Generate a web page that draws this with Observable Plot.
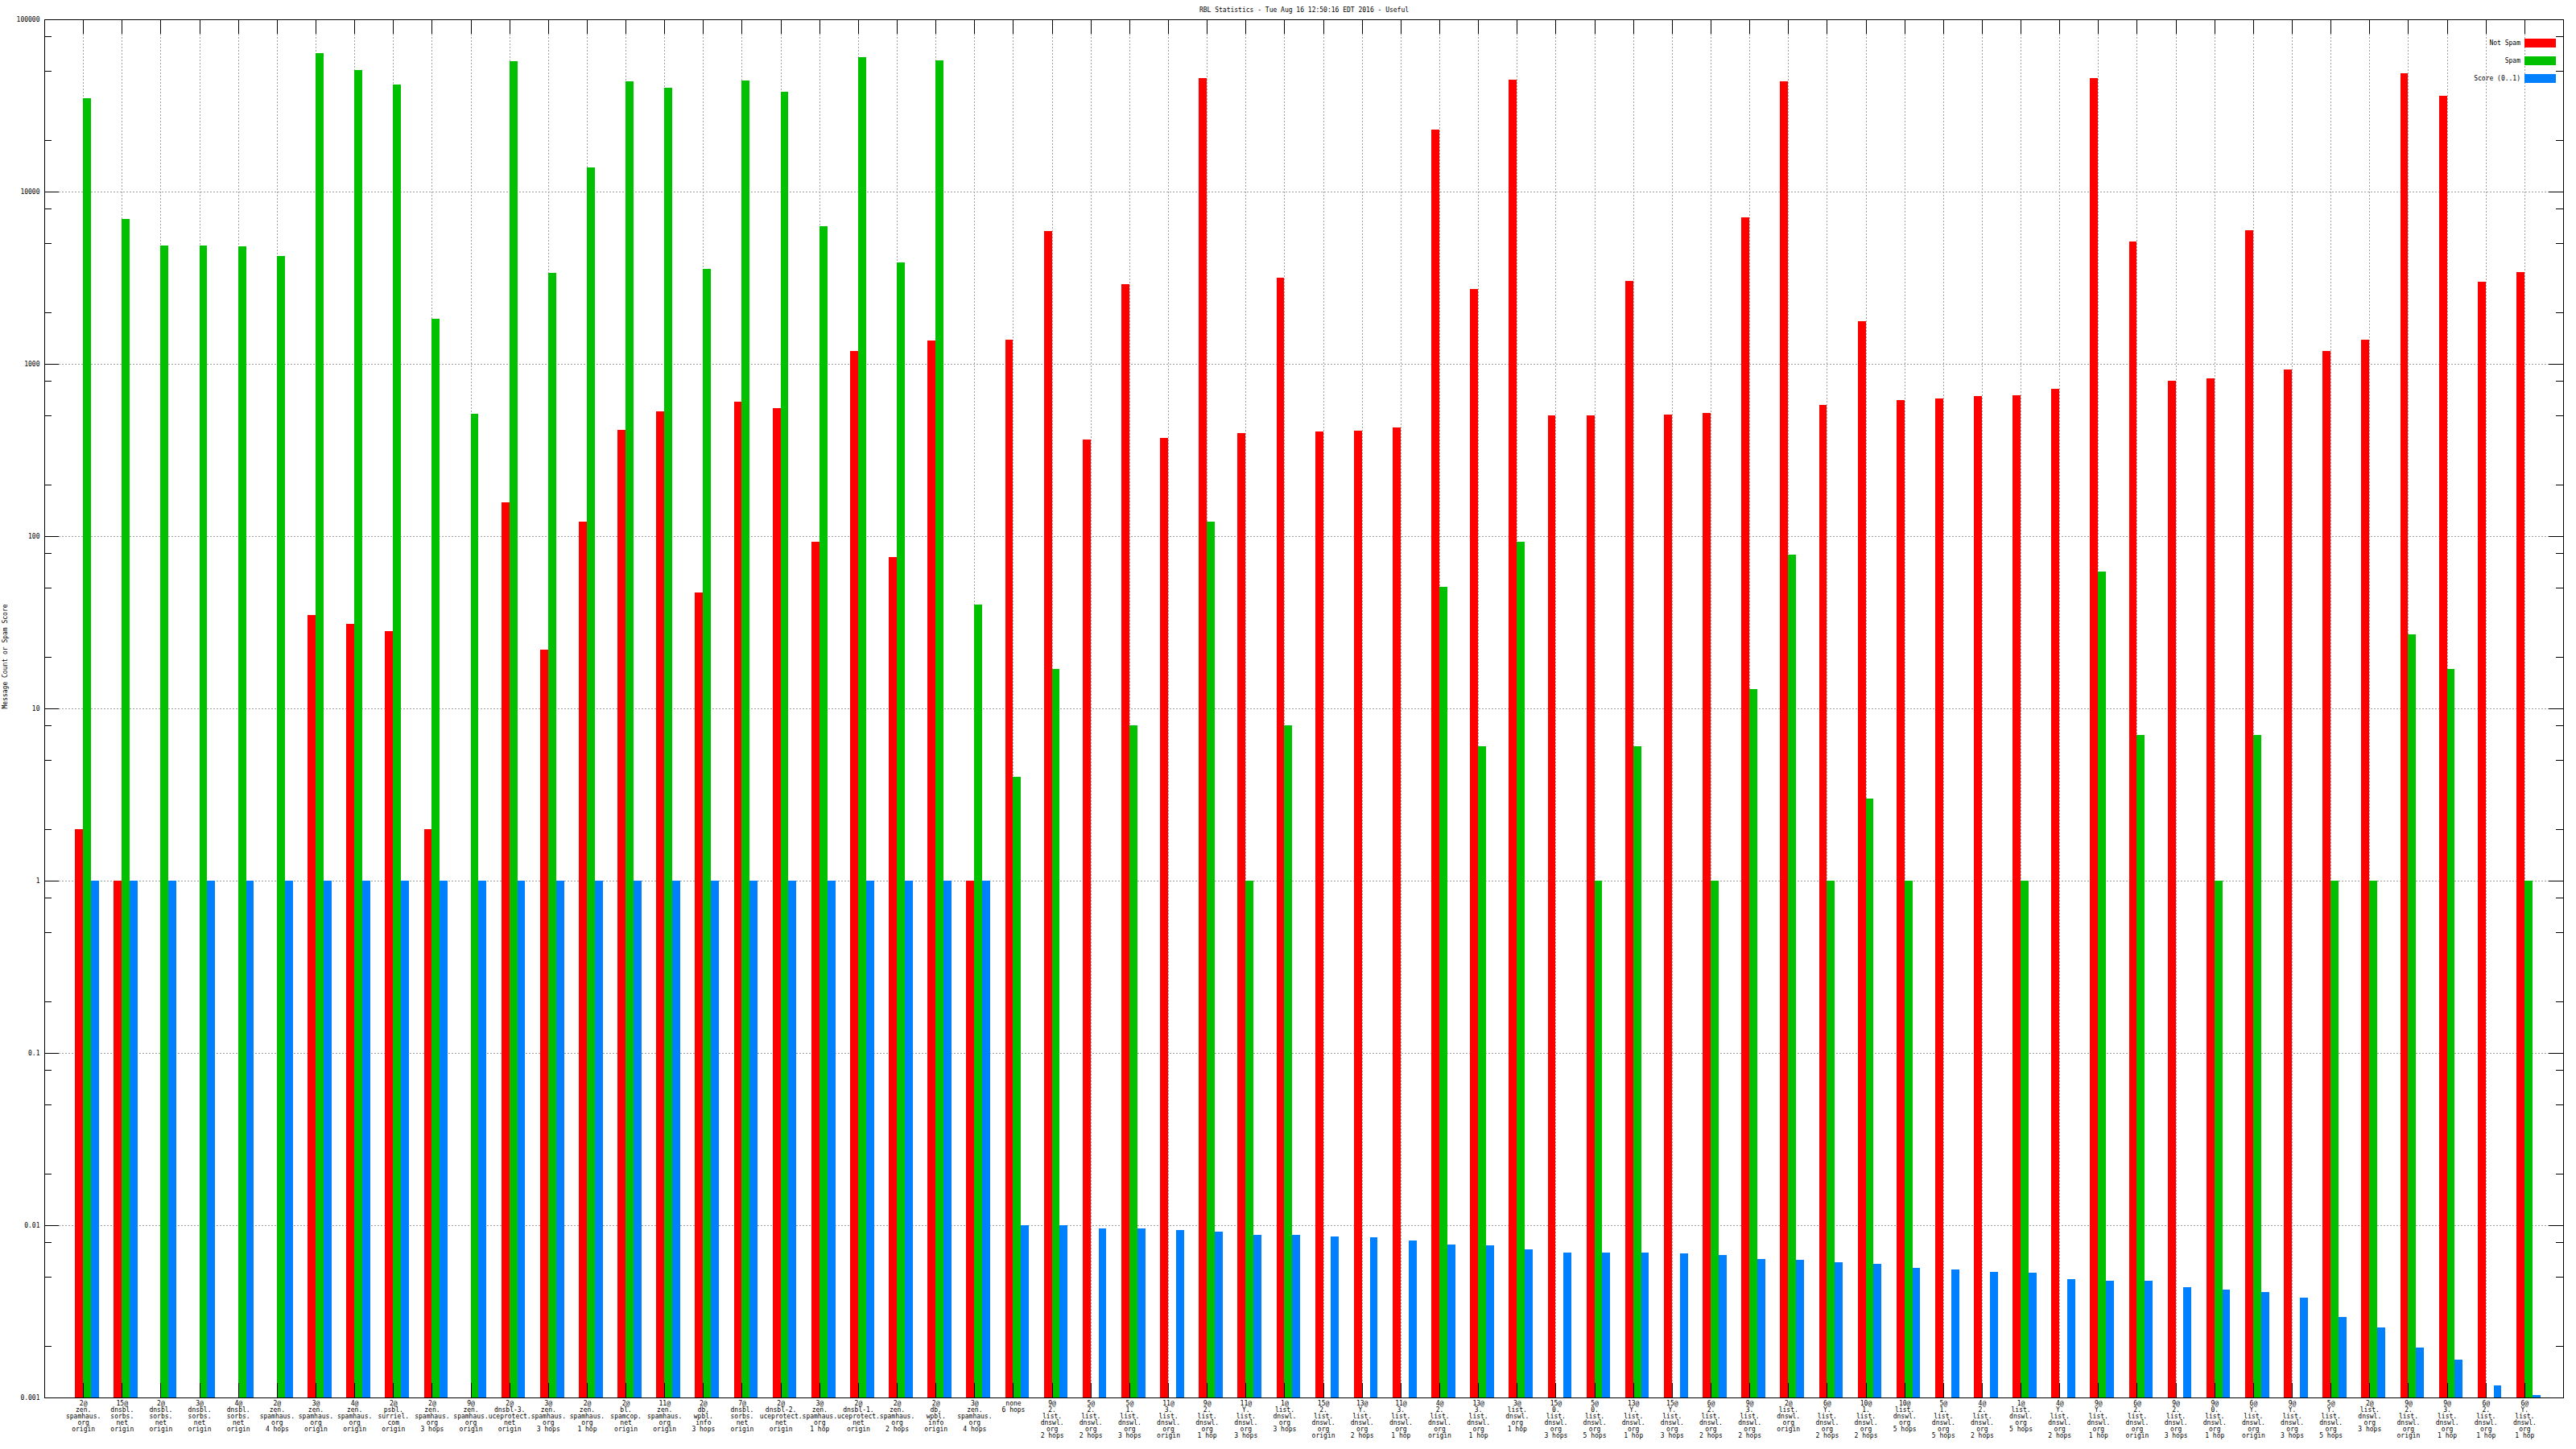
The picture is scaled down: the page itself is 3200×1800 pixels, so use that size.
<!DOCTYPE html>
<html>
<head>
<meta charset="utf-8">
<script src="https://cdn.jsdelivr.net/npm/d3@7"></script>
<script src="https://cdn.jsdelivr.net/npm/@observablehq/plot@0.6"></script>
<style>
  html, body { margin: 0; padding: 0; background: #ffffff; }
  #chart svg { display: block; shape-rendering: crispEdges; }
  #chart svg text { shape-rendering: auto; }
</style>
</head>
<body>
<div id="chart"></div>
<script>
const chartTitle = "RBL Statistics - Tue Aug 16 12:50:16 EDT 2016 - Useful";
const yLabel = "Message Count or Spam Score";

const categories = [
  "2@\nzen.\nspamhaus.\norg\norigin",
  "15@\ndnsbl.\nsorbs.\nnet\norigin",
  "2@\ndnsbl.\nsorbs.\nnet\norigin",
  "3@\ndnsbl.\nsorbs.\nnet\norigin",
  "4@\ndnsbl.\nsorbs.\nnet\norigin",
  "2@\nzen.\nspamhaus.\norg\n4 hops",
  "3@\nzen.\nspamhaus.\norg\norigin",
  "4@\nzen.\nspamhaus.\norg\norigin",
  "2@\npsbl.\nsurriel.\ncom\norigin",
  "2@\nzen.\nspamhaus.\norg\n3 hops",
  "9@\nzen.\nspamhaus.\norg\norigin",
  "2@\ndnsbl-3.\nuceprotect.\nnet\norigin",
  "3@\nzen.\nspamhaus.\norg\n3 hops",
  "2@\nzen.\nspamhaus.\norg\n1 hop",
  "2@\nbl.\nspamcop.\nnet\norigin",
  "11@\nzen.\nspamhaus.\norg\norigin",
  "2@\ndb.\nwpbl.\ninfo\n3 hops",
  "7@\ndnsbl.\nsorbs.\nnet\norigin",
  "2@\ndnsbl-2.\nuceprotect.\nnet\norigin",
  "3@\nzen.\nspamhaus.\norg\n1 hop",
  "2@\ndnsbl-1.\nuceprotect.\nnet\norigin",
  "2@\nzen.\nspamhaus.\norg\n2 hops",
  "2@\ndb.\nwpbl.\ninfo\norigin",
  "3@\nzen.\nspamhaus.\norg\n4 hops",
  "none\n6 hops",
  "9@\n2.\nlist.\ndnswl.\norg\n2 hops",
  "5@\n2.\nlist.\ndnswl.\norg\n2 hops",
  "5@\n1.\nlist.\ndnswl.\norg\n3 hops",
  "11@\n3.\nlist.\ndnswl.\norg\norigin",
  "9@\n2.\nlist.\ndnswl.\norg\n1 hop",
  "11@\nY.\nlist.\ndnswl.\norg\n3 hops",
  "1@\nlist.\ndnswl.\norg\n3 hops",
  "15@\n2.\nlist.\ndnswl.\norg\norigin",
  "13@\nY.\nlist.\ndnswl.\norg\n2 hops",
  "11@\n3.\nlist.\ndnswl.\norg\n1 hop",
  "4@\n2.\nlist.\ndnswl.\norg\norigin",
  "13@\n3.\nlist.\ndnswl.\norg\n1 hop",
  "3@\nlist.\ndnswl.\norg\n1 hop",
  "15@\n0.\nlist.\ndnswl.\norg\n3 hops",
  "5@\n0.\nlist.\ndnswl.\norg\n5 hops",
  "13@\nY.\nlist.\ndnswl.\norg\n1 hop",
  "15@\nY.\nlist.\ndnswl.\norg\n3 hops",
  "6@\n2.\nlist.\ndnswl.\norg\n2 hops",
  "9@\n3.\nlist.\ndnswl.\norg\n2 hops",
  "2@\nlist.\ndnswl.\norg\norigin",
  "6@\nY.\nlist.\ndnswl.\norg\n2 hops",
  "10@\n1.\nlist.\ndnswl.\norg\n2 hops",
  "10@\nlist.\ndnswl.\norg\n5 hops",
  "5@\n1.\nlist.\ndnswl.\norg\n5 hops",
  "4@\n2.\nlist.\ndnswl.\norg\n2 hops",
  "1@\nlist.\ndnswl.\norg\n5 hops",
  "4@\nY.\nlist.\ndnswl.\norg\n2 hops",
  "9@\nY.\nlist.\ndnswl.\norg\n1 hop",
  "6@\n2.\nlist.\ndnswl.\norg\norigin",
  "9@\n2.\nlist.\ndnswl.\norg\n3 hops",
  "9@\n0.\nlist.\ndnswl.\norg\n1 hop",
  "6@\nY.\nlist.\ndnswl.\norg\norigin",
  "9@\nY.\nlist.\ndnswl.\norg\n3 hops",
  "5@\nY.\nlist.\ndnswl.\norg\n5 hops",
  "2@\nlist.\ndnswl.\norg\n3 hops",
  "9@\n2.\nlist.\ndnswl.\norg\norigin",
  "9@\n3.\nlist.\ndnswl.\norg\n1 hop",
  "6@\n2.\nlist.\ndnswl.\norg\n1 hop",
  "6@\nY.\nlist.\ndnswl.\norg\n1 hop"
];

const notSpam = [
  2, 1, null, null, null, null, 35, 31, 28, 2,
  null, 157, 22, 122, 413, 531, 47, 603, 555, 93,
  1190, 76, 1360, 1, 1380, 5890, 364, 2900, 372, 45600,
  395, 3150, 405, 411, 426, 22950, 2710, 44600, 504, 504,
  3030, 507, 518, 7060, 43600, 577, 1760, 617, 631, 650,
  655, 717, 45600, 5140, 798, 822, 5980, 927, 1190, 1380,
  48400, 36000, 2990, 3400
];

const spam = [
  34800, 6900, 4840, 4840, 4810, 4230, 63600, 50700, 42000, 1830,
  514, 57100, 3370, 13800, 43600, 40100, 3560, 44200, 38000, 6310,
  60300, 3890, 57600, 40, 4, 17, null, 8, null, 122,
  1, 8, null, null, null, 51, 6, 93, null, 1,
  6, null, 1, 13, 78, 1, 3, 1, null, null,
  1, null, 62, 7, null, 1, 7, null, 1, 1,
  27, 17, null, 1
];

const score = [
  1, 1, 1, 1, 1, 1, 1, 1, 1, 1,
  1, 1, 1, 1, 1, 1, 1, 1, 1, 1,
  1, 1, 1, 1, 0.0100, 0.0100, 0.00958, 0.00958, 0.00938, 0.00918,
  0.00879, 0.00879, 0.00860, 0.00851, 0.00815, 0.00772, 0.00764, 0.00724, 0.00693, 0.00693,
  0.00693, 0.00686, 0.00671, 0.00636, 0.00629, 0.00610, 0.00597, 0.00565, 0.00553, 0.00536,
  0.00530, 0.00486, 0.00476, 0.00476, 0.00437, 0.00423, 0.00409, 0.00380, 0.00293, 0.00255,
  0.00195, 0.00166, 0.00117, 0.00103
];

const seriesNames = ["Not Spam", "Spam", "Score (0..1)"];
const seriesColors = ["#ff0000", "#00c000", "#0080ff"];
const yTicks = [0.001, 0.01, 0.1, 1, 10, 100, 1000, 10000, 100000];
const minorMultipliers = [2, 5, 8];

// ---- build table ----
const seriesValues = [notSpam, spam, score];
const barOffset = [-0.205, 0, 0.205];
const barWidth = 0.205;
const rows = [];
seriesValues.forEach((vals, s) => {
  vals.forEach((v, i) => {
    if (v != null && v > 0) rows.push({i, series: seriesNames[s], s, value: v});
  });
});
const indices = categories.map((_, i) => i);
const yMinor = yTicks.slice(0, -1).flatMap(d => minorMultipliers.map(m => d * m));
const yInner = yTicks.slice(1, -1);

const W = 3200, H = 1800;
const mL = 55, mR = 16, mT = 24, mB = 64;
const fw = W - mL - mR, fh = H - mT - mB;
const gridStyle = {stroke: "#a0a0a0", strokeDasharray: "2,2", strokeWidth: 1};

const chart = Plot.plot({
  width: W,
  height: H,
  marginLeft: mL,
  marginRight: mR,
  marginTop: mT,
  marginBottom: mB,
  style: {fontFamily: "'DejaVu Sans Mono', monospace", fontSize: "8px", background: "#ffffff", color: "#000"},
  x: {type: "linear", domain: [-1, 64]},
  y: {type: "log", domain: [0.001, 100000]},
  color: {domain: seriesNames, range: seriesColors},
  marks: [
    // grid
    Plot.ruleY(yInner, {y: d => d, insetLeft: 18, insetRight: 18, ...gridStyle}),
    Plot.ruleX(indices, {x: d => d, insetTop: 18, insetBottom: 18, ...gridStyle}),
    // bars
    Plot.rectY(rows, {
      x1: d => d.i + barOffset[d.s],
      x2: d => d.i + barOffset[d.s] + barWidth,
      y1: 0.001,
      y2: "value",
      fill: "series"
    }),
    // major/minor ticks (mirrored)
    Plot.ruleY(yTicks, {y: d => d, insetRight: fw - 18, stroke: "#000"}),
    Plot.ruleY(yTicks, {y: d => d, insetLeft: fw - 18, stroke: "#000"}),
    Plot.ruleY(yMinor, {y: d => d, insetRight: fw - 9, stroke: "#000"}),
    Plot.ruleY(yMinor, {y: d => d, insetLeft: fw - 9, stroke: "#000"}),
    Plot.ruleX(indices, {x: d => d, insetBottom: fh - 18, stroke: "#000"}),
    Plot.ruleX(indices, {x: d => d, insetTop: fh - 18, stroke: "#000"}),
    Plot.frame({stroke: "#000", strokeWidth: 1}),
    // axes labels
    Plot.axisY({ticks: yTicks, tickFormat: d => String(d), tickSize: 0, tickPadding: 6, label: null}),
    Plot.axisX({ticks: indices, tickFormat: i => categories[i], tickSize: 0, tickPadding: 4, lineHeight: 1, label: null}),
    // title and y label
    Plot.text([chartTitle], {text: d => d, frameAnchor: "top", dy: -12, lineAnchor: "middle"}),
    Plot.text([yLabel], {text: d => d, frameAnchor: "left", dx: -49, rotate: -90})
  ]
});

// legend inside plot, top-right
const svg = d3.select(chart);
const lg = svg.append("g").attr("font-family", "'DejaVu Sans Mono', monospace").attr("font-size", 8);
seriesNames.forEach((name, k) => {
  const cy = 53 + k * 22;
  lg.append("rect").attr("x", 3136).attr("y", cy - 5).attr("width", 39).attr("height", 11).attr("fill", seriesColors[k]);
  lg.append("text").attr("x", 3131).attr("y", cy).attr("dy", "0.32em").attr("text-anchor", "end").text(name);
});

document.getElementById("chart").appendChild(chart);
</script>
</body>
</html>
